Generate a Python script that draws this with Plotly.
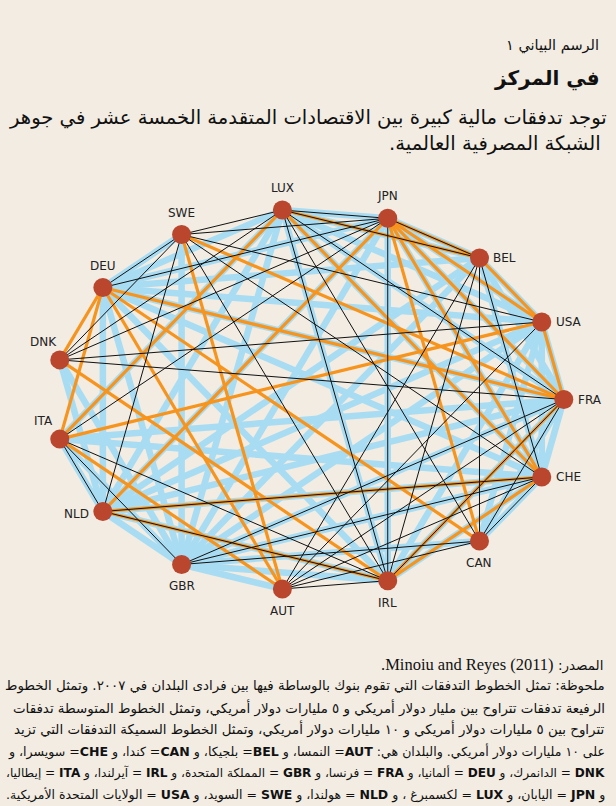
import numpy as np
import plotly.graph_objects as go

# ---------------- data ----------------
countries = ["FRA", "USA", "BEL", "JPN", "LUX", "SWE", "DEU", "DNK",
             "ITA", "NLD", "GBR", "AUT", "IRL", "CAN", "CHE"]

# thick lines: flows above US$10 billion
edges_large = [
    ("GBR", "USA"), ("GBR", "FRA"), ("GBR", "DEU"), ("GBR", "NLD"), ("GBR", "JPN"),
    ("GBR", "LUX"), ("GBR", "IRL"), ("GBR", "CHE"), ("GBR", "BEL"), ("GBR", "SWE"),
    ("GBR", "DNK"), ("GBR", "ITA"), ("GBR", "CAN"), ("GBR", "AUT"),
    ("USA", "FRA"), ("USA", "DEU"), ("USA", "NLD"), ("USA", "JPN"), ("USA", "LUX"),
    ("USA", "IRL"), ("USA", "CHE"), ("USA", "BEL"), ("USA", "CAN"),
    ("FRA", "DEU"), ("FRA", "NLD"), ("FRA", "BEL"), ("FRA", "LUX"), ("FRA", "CHE"),
    ("FRA", "ITA"), ("FRA", "IRL"), ("FRA", "CAN"), ("FRA", "JPN"),
    ("DEU", "NLD"), ("DEU", "LUX"), ("DEU", "CHE"), ("DEU", "BEL"), ("DEU", "IRL"),
    ("DEU", "SWE"), ("DEU", "JPN"),
    ("NLD", "BEL"), ("NLD", "LUX"), ("NLD", "ITA"), ("NLD", "IRL"), ("NLD", "CHE"),
    ("NLD", "JPN"),
    ("JPN", "BEL"), ("JPN", "LUX"), ("JPN", "CHE"), ("JPN", "IRL"),
    ("BEL", "LUX"), ("BEL", "CHE"),
    ("CHE", "LUX"), ("CHE", "CAN"), ("CHE", "IRL"), ("CHE", "ITA"),
    ("LUX", "IRL"), ("LUX", "ITA"), ("DNK", "NLD"),
]

# medium lines: flows between US$5 and 10 billion
edges_medium = [
    ("LUX", "BEL"), ("BEL", "USA"), ("USA", "FRA"), ("USA", "ITA"), ("JPN", "USA"),
    ("JPN", "FRA"), ("JPN", "BEL"), ("JPN", "CHE"), ("JPN", "CAN"), ("JPN", "NLD"),
    ("DEU", "DNK"), ("DEU", "ITA"), ("DEU", "FRA"), ("DEU", "AUT"), ("DEU", "CAN"),
    ("SWE", "FRA"), ("SWE", "AUT"), ("NLD", "IRL"), ("NLD", "CHE"),
    ("ITA", "AUT"), ("ITA", "LUX"), ("DNK", "IRL"), ("IRL", "CHE"), ("IRL", "FRA"),
    ("LUX", "CHE"),
]

# thin lines: flows between US$1 and 5 billion
edges_small = [
    ("SWE", "LUX"), ("SWE", "JPN"), ("LUX", "JPN"), ("LUX", "BEL"),
    ("DEU", "SWE"), ("DEU", "JPN"),
    ("SWE", "IRL"), ("SWE", "USA"), ("SWE", "CHE"), ("SWE", "NLD"),
    ("JPN", "BEL"), ("JPN", "IRL"),
    ("BEL", "IRL"), ("BEL", "CAN"), ("BEL", "CHE"), ("BEL", "AUT"),
    ("USA", "DNK"), ("USA", "AUT"),
    ("DNK", "LUX"), ("DNK", "JPN"), ("DNK", "FRA"), ("DNK", "SWE"),
    ("AUT", "IRL"), ("AUT", "FRA"), ("AUT", "CHE"),
    ("ITA", "GBR"), ("ITA", "NLD"), ("ITA", "IRL"), ("ITA", "JPN"),
    ("NLD", "IRL"), ("NLD", "CHE"),
    ("GBR", "CAN"),
    ("LUX", "FRA"), ("LUX", "IRL"), ("LUX", "CAN"),
    ("FRA", "CAN"), ("FRA", "IRL"), ("FRA", "GBR"),
    ("CHE", "CAN"), ("CHE", "GBR"), ("CAN", "AUT"),
]

label_side = {"FRA": "right", "USA": "right", "BEL": "right", "JPN": "top",
              "LUX": "top", "SWE": "top", "DEU": "top", "DNK": "topleft",
              "ITA": "topleft", "NLD": "left", "GBR": "bottom", "AUT": "bottom",
              "IRL": "bottom", "CAN": "bottom", "CHE": "right"}

kicker = "الرسم البياني ١"
title = "في المركز"
subtitle = ["توجد تدفقات مالية كبيرة بين الاقتصادات المتقدمة الخمسة عشر في جوهر",
            "الشبكة المصرفية العالمية."]
source_label = "المصدر:"
source_ref = "Minoiu and Reyes (2011)"
notes = [
    "ملحوظة: تمثل الخطوط التدفقات التي تقوم بنوك بالوساطة فيها بين فرادى البلدان في ٢٠٠٧. وتمثل الخطوط",
    "الرفيعة تدفقات تتراوح بين مليار دولار أمريكي و ٥ مليارات دولار أمريكي، وتمثل الخطوط المتوسطة تدفقات",
    "تتراوح بين ٥ مليارات دولار أمريكي و ١٠ مليارات دولار أمريكي، وتمثل الخطوط السميكة التدفقات التي تزيد",
    "على ١٠ مليارات دولار أمريكي. والبلدان هي: AUT= النمسا، و BEL= بلجيكا، و CAN= كندا، و CHE= سويسرا، و",
    "DNK = الدانمرك، و DEU = ألمانيا، و FRA = فرنسا، و GBR = المملكة المتحدة، و IRL = آيرلندا، و ITA = إيطاليا،",
    "و JPN = اليابان، و LUX = لكسمبرغ ، و NLD = هولندا، و SWE = السويد، و USA = الولايات المتحدة الأمريكية.",
]
codes = ["AUT", "BEL", "CAN", "CHE", "DNK", "DEU", "FRA", "GBR", "IRL", "ITA",
         "JPN", "LUX", "NLD", "SWE", "USA"]

# ---------------- styling / layout ----------------
W, H = 616, 806
CX, CY, RX, RY = 309.0, 399.5, 254.8, 190.5   # circle centre / radii in px
note_sizes = [13.4, 13.4, 13.4, 12.55, 12.1, 12.5]   # per line, to fill the width

ang = {c: np.deg2rad(24 * i) for i, c in enumerate(countries)}
pos = {c: (np.cos(a), np.sin(a)) for c, a in ang.items()}

xr = [-CX / RX, (W - CX) / RX]
yr = [(CY - H) / RY, CY / RY]


def rtl(s):
    return "\u202B" + s + "\u202C"


def edge_xy(edges):
    xs, ys = [], []
    for a, b in edges:
        xs += [pos[a][0], pos[b][0], None]
        ys += [pos[a][1], pos[b][1], None]
    return xs, ys


fig = go.Figure()
for edges, col, wid in [(edges_large, "#a8dcf3", 6.5),
                        (edges_medium, "#f7941d", 3.2),
                        (edges_small, "#111111", 1.0)]:
    ex, ey = edge_xy(edges)
    fig.add_trace(go.Scatter(x=ex, y=ey, mode="lines",
                             line=dict(color=col, width=wid),
                             hoverinfo="skip", showlegend=False))

fig.add_trace(go.Scatter(
    x=[pos[c][0] for c in countries], y=[pos[c][1] for c in countries],
    mode="markers", marker=dict(size=19, color="#b9462d", line=dict(width=0)),
    hovertext=countries, hoverinfo="text", showlegend=False))

# node labels
off = {"right": (12, 0, "left", "middle"), "top": (0, 13, "center", "bottom"),
       "bottom": (0, -13, "center", "top"), "left": (-12, -3, "right", "middle"),
       "topleft": (-16, 9, "center", "bottom")}
for c in countries:
    dx, dy, xa, ya = off[label_side[c]]
    fig.add_annotation(x=pos[c][0], y=pos[c][1], text=c, showarrow=False,
                       xshift=dx, yshift=dy, xanchor=xa, yanchor=ya,
                       font=dict(family="DejaVu Sans", size=12, color="#222222"))


def add_text(xp, yp, txt, size, family="DejaVu Sans", color="#111111"):
    fig.add_annotation(xref="paper", yref="paper", x=xp / W, y=1 - yp / H,
                       text=txt, showarrow=False, xanchor="right",
                       yanchor="middle",
                       font=dict(family=family, size=size, color=color))


add_text(601, 45, rtl(kicker), 14.5)
add_text(602, 79, "<b>" + rtl(title) + "</b>", 20)
add_text(609, 118, rtl(subtitle[0]), 19.6)
add_text(603, 143, rtl(subtitle[1]), 19.6)

src = rtl(source_label + " <span style='font-family:Liberation Serif;font-size:16.5px'>"
          + source_ref + ".</span>")
add_text(605, 664, src, 13.5)


def bold_codes(s):
    for c in codes:
        s = s.replace(c, "<b>" + c + "</b>")
    return s


for i, line in enumerate(notes):
    add_text(607, 686 + 21.7 * i, rtl(bold_codes(line)), note_sizes[i])

fig.update_xaxes(range=xr, visible=False, fixedrange=True)
fig.update_yaxes(range=yr, visible=False, fixedrange=True)
fig.update_layout(width=W, height=H, margin=dict(l=0, r=0, t=0, b=0),
                  paper_bgcolor="#f2ece2", plot_bgcolor="#f2ece2",
                  showlegend=False)

fig.write_html("out.html", config={"displayModeBar": False},
               post_script="document.body.style.margin='0';")
